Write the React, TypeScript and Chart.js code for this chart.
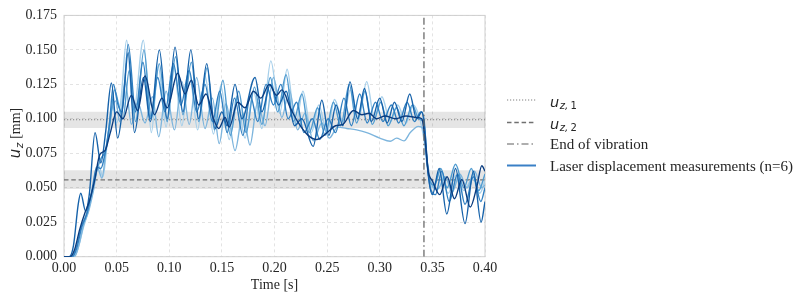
import { useEffect, useRef } from "react";
import { Chart, registerables } from "chart.js";

Chart.register(...registerables);

const SERIF = '"Liberation Serif", "Times New Roman", serif';
const SANS = '"DejaVu Sans", sans-serif';

// Axis ticks
const X_TICKS = [0, 0.05, 0.1, 0.15, 0.2, 0.25, 0.3, 0.35, 0.4];
const Y_TICKS = [0, 0.025, 0.05, 0.075, 0.1, 0.125, 0.15, 0.175];

// Reference displacements and their bands [mm]
const U_Z1 = 0.0993;
const U_Z1_BAND = [0.0933, 0.1052];
const U_Z2 = 0.0557;
const U_Z2_BAND = [0.0491, 0.0627];
// Time at which vibration stops [s]
const END_OF_VIBRATION = 0.342;

// Laser displacement runs: [time s, u_z mm]
const RUN_A: [number, number][] = [
  [0, 0], [0.009, 0], [0.013, 0.005], [0.018, 0.02], [0.023, 0.033], [0.028, 0.05], [0.033, 0.066],
  [0.037, 0.058], [0.041, 0.082], [0.046, 0.11], [0.05, 0.097], [0.054, 0.113], [0.0595, 0.157],
  [0.066, 0.104], [0.0754, 0.157], [0.083, 0.09], [0.0895, 0.138], [0.097, 0.094], [0.104, 0.139],
  [0.112, 0.095], [0.119, 0.134], [0.127, 0.092], [0.134, 0.131], [0.142, 0.089], [0.149, 0.124],
  [0.157, 0.085], [0.164, 0.116], [0.172, 0.086], [0.18, 0.12], [0.188, 0.093], [0.1965, 0.142],
  [0.205, 0.104], [0.212, 0.136], [0.22, 0.095], [0.227, 0.12], [0.235, 0.09], [0.242, 0.11],
  [0.25, 0.09], [0.257, 0.114], [0.265, 0.098], [0.272, 0.121], [0.28, 0.1], [0.2876, 0.127],
  [0.295, 0.1], [0.302, 0.116], [0.31, 0.098], [0.317, 0.11], [0.325, 0.097], [0.332, 0.11],
  [0.338, 0.1], [0.342, 0.085], [0.346, 0.06], [0.35, 0.05], [0.357, 0.061], [0.365, 0.046],
  [0.372, 0.059], [0.38, 0.048], [0.388, 0.057], [0.395, 0.046], [0.4, 0.055],
];

const RUN_B: [number, number][] = [
  [0, 0], [0.01, 0], [0.014, 0.008], [0.019, 0.024], [0.023, 0.032], [0.028, 0.048], [0.032, 0.064],
  [0.036, 0.057], [0.04, 0.078], [0.045, 0.105], [0.049, 0.113], [0.053, 0.098], [0.058, 0.128],
  [0.064, 0.096], [0.07, 0.112], [0.077, 0.097], [0.084, 0.116], [0.09, 0.087], [0.097, 0.12],
  [0.105, 0.092], [0.112, 0.127], [0.119, 0.096], [0.126, 0.13], [0.134, 0.093], [0.141, 0.115],
  [0.1475, 0.082], [0.154, 0.111], [0.1625, 0.077], [0.17, 0.104], [0.1767, 0.081], [0.184, 0.112],
  [0.191, 0.095], [0.199, 0.13], [0.207, 0.101], [0.214, 0.121], [0.222, 0.092], [0.229, 0.104],
  [0.237, 0.084], [0.245, 0.097], [0.252, 0.086], [0.26, 0.094], [0.2686, 0.093], [0.278, 0.092],
  [0.2876, 0.09], [0.3, 0.086], [0.31, 0.0837], [0.316, 0.086], [0.323, 0.084], [0.329, 0.09],
  [0.3367, 0.0945], [0.341, 0.093], [0.345, 0.07], [0.349, 0.053], [0.355, 0.049], [0.362, 0.058],
  [0.369, 0.047], [0.376, 0.06], [0.383, 0.05], [0.39, 0.062], [0.397, 0.05], [0.4, 0.052],
];

const RUN_C: [number, number][] = [
  [0, 0], [0.007, 0], [0.011, 0.005], [0.016, 0.02], [0.021, 0.03], [0.026, 0.045], [0.031, 0.062],
  [0.035, 0.071], [0.04, 0.078], [0.044, 0.098], [0.048, 0.121], [0.052, 0.11], [0.056, 0.1],
  [0.062, 0.135], [0.068, 0.098], [0.076, 0.15], [0.083, 0.1], [0.0905, 0.14], [0.098, 0.098],
  [0.106, 0.145], [0.113, 0.103], [0.121, 0.141], [0.128, 0.098], [0.136, 0.137], [0.143, 0.092],
  [0.151, 0.128], [0.158, 0.088], [0.166, 0.12], [0.173, 0.09], [0.181, 0.123], [0.188, 0.096],
  [0.196, 0.13], [0.203, 0.105], [0.211, 0.132], [0.218, 0.098], [0.226, 0.118], [0.233, 0.09],
  [0.241, 0.108], [0.248, 0.088], [0.256, 0.112], [0.263, 0.095], [0.271, 0.125], [0.278, 0.097],
  [0.286, 0.12], [0.293, 0.096], [0.301, 0.112], [0.308, 0.095], [0.316, 0.108], [0.323, 0.095],
  [0.331, 0.11], [0.337, 0.1], [0.341, 0.098], [0.344, 0.075], [0.347, 0.056], [0.352, 0.052],
  [0.358, 0.064], [0.364, 0.05], [0.372, 0.067], [0.38, 0.05], [0.387, 0.064], [0.394, 0.048],
  [0.4, 0.06],
];

const RUN_D: [number, number][] = [
  [0, 0], [0.008, 0], [0.012, 0.006], [0.017, 0.022], [0.022, 0.032], [0.027, 0.05], [0.031, 0.065],
  [0.035, 0.064], [0.039, 0.075], [0.043, 0.095], [0.047, 0.125], [0.051, 0.111], [0.055, 0.105],
  [0.061, 0.154], [0.068, 0.105], [0.075, 0.141], [0.082, 0.1], [0.089, 0.13], [0.096, 0.105],
  [0.104, 0.14], [0.111, 0.11], [0.119, 0.135], [0.126, 0.105], [0.134, 0.125], [0.141, 0.098],
  [0.148, 0.12], [0.155, 0.09], [0.162, 0.115], [0.17, 0.088], [0.177, 0.117], [0.184, 0.098],
  [0.192, 0.125], [0.199, 0.11], [0.206, 0.125], [0.213, 0.1], [0.221, 0.112], [0.228, 0.09],
  [0.236, 0.1], [0.243, 0.085], [0.251, 0.1], [0.258, 0.09], [0.266, 0.115], [0.273, 0.095],
  [0.281, 0.118], [0.288, 0.097], [0.296, 0.112], [0.303, 0.098], [0.311, 0.11], [0.318, 0.097],
  [0.326, 0.112], [0.333, 0.098], [0.339, 0.105], [0.342, 0.1], [0.345, 0.07], [0.348, 0.05],
  [0.353, 0.045], [0.359, 0.062], [0.366, 0.04], [0.374, 0.06], [0.381, 0.038], [0.389, 0.058],
  [0.396, 0.04], [0.4, 0.05],
];

const RUN_E: [number, number][] = [
  [0, 0], [0.005, 0], [0.009, 0.008], [0.0135, 0.038], [0.0159, 0.046], [0.0205, 0.033], [0.024, 0.045],
  [0.0295, 0.09], [0.035, 0.068], [0.0395, 0.09], [0.045, 0.126], [0.051, 0.086], [0.056, 0.11],
  [0.061, 0.148], [0.067, 0.09], [0.0755, 0.13], [0.082, 0.098], [0.0906, 0.15], [0.098, 0.1],
  [0.1055, 0.152], [0.113, 0.105], [0.1205, 0.15], [0.128, 0.1], [0.1356, 0.14], [0.1435, 0.093],
  [0.15, 0.105], [0.155, 0.095], [0.1625, 0.125], [0.169, 0.1], [0.1815, 0.13], [0.188, 0.105],
  [0.196, 0.125], [0.204, 0.11], [0.211, 0.12], [0.219, 0.095], [0.226, 0.1], [0.2367, 0.08],
  [0.245, 0.1135], [0.2517, 0.088], [0.2585, 0.11], [0.265, 0.095], [0.2717, 0.1268], [0.279, 0.1],
  [0.2855, 0.122], [0.292, 0.098], [0.3, 0.115], [0.307, 0.097], [0.314, 0.112], [0.321, 0.098],
  [0.3285, 0.118], [0.335, 0.1], [0.34, 0.105], [0.343, 0.09], [0.346, 0.06], [0.35, 0.045],
  [0.3565, 0.064], [0.3637, 0.031], [0.372, 0.064], [0.381, 0.024], [0.389, 0.062], [0.3963, 0.025],
  [0.4, 0.04],
];

const RUN_F: [number, number][] = [
  [0, 0], [0.006, 0], [0.01, 0.005], [0.015, 0.02], [0.02, 0.032], [0.024, 0.04], [0.029, 0.055],
  [0.034, 0.074], [0.039, 0.077], [0.044, 0.09], [0.05, 0.105], [0.056, 0.1], [0.064, 0.117],
  [0.07, 0.106], [0.077, 0.131], [0.086, 0.103], [0.093, 0.115], [0.098, 0.108], [0.108, 0.133],
  [0.115, 0.118], [0.121, 0.128], [0.128, 0.11], [0.135, 0.118], [0.142, 0.1], [0.147, 0.093],
  [0.153, 0.101], [0.157, 0.094], [0.165, 0.112], [0.172, 0.108], [0.18, 0.12], [0.187, 0.115],
  [0.195, 0.125], [0.202, 0.117], [0.207, 0.121], [0.215, 0.108], [0.222, 0.098], [0.232, 0.088],
  [0.24, 0.085], [0.25, 0.09], [0.258, 0.095], [0.265, 0.096], [0.275, 0.106], [0.283, 0.103],
  [0.29, 0.104], [0.297, 0.1], [0.305, 0.102], [0.315, 0.1], [0.325, 0.102], [0.335, 0.101],
  [0.34, 0.1], [0.343, 0.085], [0.346, 0.062], [0.35, 0.055], [0.357, 0.045], [0.364, 0.058],
  [0.371, 0.042], [0.378, 0.056], [0.386, 0.036], [0.392, 0.05], [0.397, 0.066], [0.4, 0.062],
];

const RUNS = [RUN_A, RUN_B, RUN_C, RUN_D, RUN_E, RUN_F];
const RUN_COLORS = ["#a6cfea", "#7db5dd", "#4f9bd0", "#2f7fc1", "#1662aa", "#0b3d80"];

// Legend entries: math labels are given as [base, italic subscript, upright subscript]
const LEGEND_MATH: [string, string, string][] = [
  ["u", "z,", "1"],
  ["u", "z,", "2"],
];
const LEGEND_TEXT = ["End of vibration", "Laser displacement measurements (n=6)"];

const REF_GREY = "#808080";
const BAND_FILL = "rgba(0, 0, 0, 0.1)";
const TEXT_COLOR = "#262626";

function drawMathLabel(ctx: CanvasRenderingContext2D, x: number, y: number, parts: [string, string, string]) {
  const [base, subItalic, subUpright] = parts;
  ctx.font = `italic 14.5px ${SANS}`;
  ctx.fillText(base, x, y);
  let cx = x + ctx.measureText(base).width + 0.5;
  ctx.font = `italic 10px ${SANS}`;
  ctx.fillText(subItalic, cx, y + 2);
  cx += ctx.measureText(subItalic).width + 2.5;
  ctx.font = `10px ${SANS}`;
  ctx.fillText(subUpright, cx, y + 2);
}

const frameAndLegend = {
  id: "frameAndLegend",
  beforeDatasetsDraw(chart: any) {
    const { ctx, chartArea } = chart;
    ctx.save();
    ctx.strokeStyle = "#cfcfcf";
    ctx.lineWidth = 1;
    ctx.strokeRect(chartArea.left, chartArea.top, chartArea.right - chartArea.left, chartArea.bottom - chartArea.top);
    ctx.restore();
  },
  afterDraw(chart: any) {
    const { ctx, chartArea } = chart;
    ctx.save();
    // y-axis title: u_z [mm]
    const cy = (chartArea.top + chartArea.bottom) / 2 - 3;
    ctx.translate(19.5, cy);
    ctx.rotate(-Math.PI / 2);
    ctx.fillStyle = TEXT_COLOR;
    ctx.textBaseline = "alphabetic";
    ctx.font = `italic 15px ${SANS}`;
    const uw = ctx.measureText("u").width;
    ctx.font = `italic 10.5px ${SANS}`;
    const zw = ctx.measureText("z").width;
    ctx.font = `14px ${SERIF}`;
    const mw = ctx.measureText(" [mm]").width;
    let x0 = -(uw + zw + 1 + mw) / 2;
    ctx.font = `italic 15px ${SANS}`;
    ctx.fillText("u", x0, 0);
    x0 += uw + 0.5;
    ctx.font = `italic 10.5px ${SANS}`;
    ctx.fillText("z", x0, 3);
    x0 += zw + 0.5;
    ctx.font = `14px ${SERIF}`;
    ctx.fillText(" [mm]", x0, 0);
    ctx.restore();

    // Legend
    ctx.save();
    const lx0 = 507;
    const lx1 = 536;
    const tx = 550;
    const rows = [100, 122.5, 144, 165.5];
    ctx.lineCap = "butt";
    const styles = [
      { dash: [1.2, 1.8], color: REF_GREY, width: 1.1 },
      { dash: [4.5, 2.8], color: "#707070", width: 1.3 },
      { dash: [7, 3, 1.5, 3], color: "#5e5e5e", width: 1.2 },
      { dash: [], color: "#3a80c6", width: 2 },
    ];
    rows.forEach((y, i) => {
      const s = styles[i];
      ctx.beginPath();
      ctx.setLineDash(s.dash);
      ctx.strokeStyle = s.color;
      ctx.lineWidth = s.width;
      ctx.moveTo(lx0, y);
      ctx.lineTo(lx1, y);
      ctx.stroke();
    });
    ctx.setLineDash([]);
    ctx.fillStyle = TEXT_COLOR;
    ctx.textBaseline = "alphabetic";
    drawMathLabel(ctx, tx, rows[0] + 6.5, LEGEND_MATH[0]);
    drawMathLabel(ctx, tx, rows[1] + 6.5, LEGEND_MATH[1]);
    ctx.font = `15px ${SERIF}`;
    ctx.fillText(LEGEND_TEXT[0], tx, rows[2] + 5);
    ctx.fillText(LEGEND_TEXT[1], tx, rows[3] + 5);
    ctx.restore();
  },
};

export default function App() {
  const canvasRef = useRef<HTMLCanvasElement | null>(null);

  useEffect(() => {
    const canvas = canvasRef.current;
    if (!canvas) return;

    const runSets = RUNS.map((run, i) => ({
      type: "line" as const,
      data: run.map(([x, y]) => ({ x, y })),
      borderColor: RUN_COLORS[i],
      borderWidth: 1.4,
      pointRadius: 0,
      cubicInterpolationMode: "monotone" as const,
      fill: false,
      order: RUNS.length - i,
    }));

    const hLine = (v: number) => [
      { x: 0, y: v },
      { x: 0.4, y: v },
    ];

    const bandSets = [U_Z1_BAND, U_Z2_BAND].flatMap((band) => [
      {
        type: "line" as const,
        data: hLine(band[0]),
        borderWidth: 0,
        borderColor: "rgba(0,0,0,0)",
        pointRadius: 0,
        fill: false,
        order: 30,
      },
      {
        type: "line" as const,
        data: hLine(band[1]),
        borderWidth: 0,
        borderColor: "rgba(0,0,0,0)",
        backgroundColor: BAND_FILL,
        pointRadius: 0,
        fill: "-1",
        order: 29,
      },
    ]);

    const refSets = [
      {
        type: "line" as const,
        data: hLine(U_Z1),
        borderColor: REF_GREY,
        borderWidth: 1.1,
        borderDash: [1.2, 1.8],
        pointRadius: 0,
        fill: false,
        order: 20,
      },
      {
        type: "line" as const,
        data: hLine(U_Z2),
        borderColor: "#707070",
        borderWidth: 1.3,
        borderDash: [4.5, 2.8],
        pointRadius: 0,
        fill: false,
        order: 20,
      },
      {
        type: "line" as const,
        data: [
          { x: END_OF_VIBRATION, y: 0 },
          { x: END_OF_VIBRATION, y: 0.175 },
        ],
        borderColor: "#5e5e5e",
        borderWidth: 1.2,
        borderDash: [7, 3, 1.5, 3],
        pointRadius: 0,
        fill: false,
        order: -1,
      },
    ];

    const tickFont = { family: SERIF, size: 14 };

    const chart = new Chart(canvas, {
      type: "line",
      data: { datasets: [...runSets, ...refSets, ...bandSets] as any },
      options: {
        animation: false,
        responsive: false,
        devicePixelRatio: 1,
        layout: { padding: { left: 0, right: 310, top: 12.7, bottom: 0 } },
        plugins: {
          legend: { display: false },
          tooltip: { enabled: false },
        },
        elements: { line: { tension: 0 } },
        scales: {
          x: {
            type: "linear",
            min: 0,
            max: 0.4,
            afterBuildTicks: (s: any) => {
              s.ticks = X_TICKS.map((v) => ({ value: v }));
            },
            afterFit: (s: any) => {
              s.height = 44.3;
            },
            ticks: {
              font: tickFont,
              color: TEXT_COLOR,
              padding: 3,
              maxRotation: 0,
              callback: (v: any) => Number(v).toFixed(2),
            },
            grid: { color: "#dcdcdc", lineWidth: 0.8, drawTicks: false },
            border: { display: false, dash: [3, 3] },
            title: {
              display: true,
              text: "Time [s]",
              font: { family: SERIF, size: 14 },
              color: TEXT_COLOR,
              padding: { top: 0, bottom: 7 },
            },
          },
          y: {
            type: "linear",
            min: 0,
            max: 0.175,
            afterBuildTicks: (s: any) => {
              s.ticks = Y_TICKS.map((v) => ({ value: v }));
            },
            afterFit: (s: any) => {
              s.width = 64;
            },
            ticks: {
              font: tickFont,
              color: TEXT_COLOR,
              padding: 7,
              callback: (v: any) => Number(v).toFixed(3),
            },
            grid: { color: "#dcdcdc", lineWidth: 0.8, drawTicks: false },
            border: { display: false, dash: [3, 3] },
          },
        },
      },
      plugins: [frameAndLegend],
    });

    return () => chart.destroy();
  }, []);

  return (
    <div style={{ position: "absolute", left: 0, top: 0, width: 795, height: 301, background: "#fff" }}>
      <canvas ref={canvasRef} width={795} height={301} style={{ width: 795, height: 301, display: "block" }} />
    </div>
  );
}
